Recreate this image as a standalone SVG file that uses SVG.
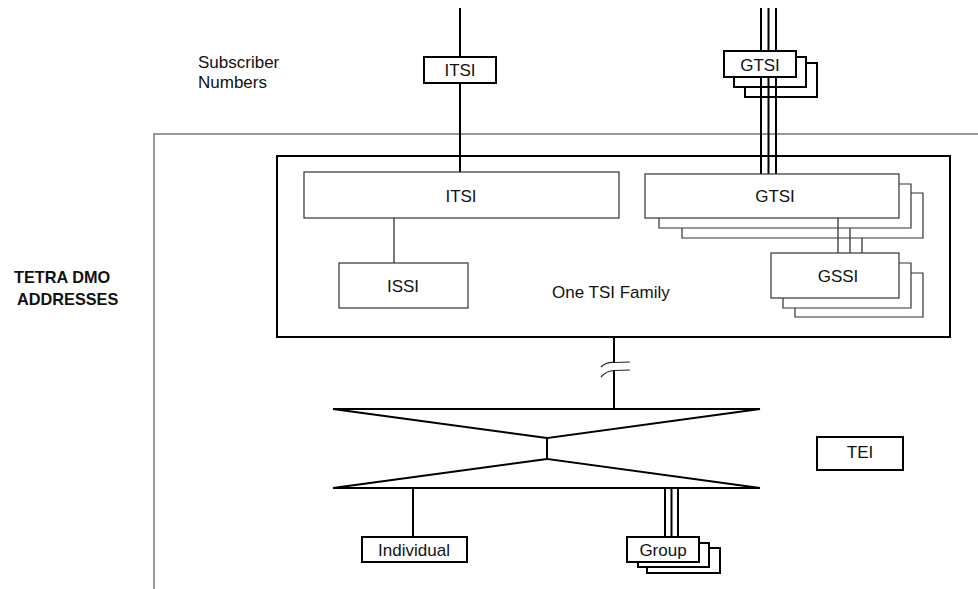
<svg xmlns="http://www.w3.org/2000/svg" width="978" height="589" viewBox="0 0 978 589">
<style>
text{font-family:"Liberation Sans",Arial,sans-serif;font-size:17px;fill:#111}
.c{text-anchor:middle}
.b{font-weight:bold;font-size:16.3px}
.thick{fill:#fff;stroke:#000;stroke-width:2}
.thin{fill:#fff;stroke:#333;stroke-width:1.2}
.stk{fill:none;stroke:#000;stroke-width:2}
.stkt{fill:none;stroke:#333;stroke-width:1.2}
.ln{fill:none;stroke:#000;stroke-width:2}
.lnt{fill:none;stroke:#222;stroke-width:1.2}
</style>
<rect width="978" height="589" fill="#fff"/>
<g id="outer-box"><rect x="154" y="134" width="900" height="500" fill="none" stroke="#555" stroke-width="1.2"/></g>
<g id="labels">
<text x="198" y="68">Subscriber</text>
<text x="198" y="88">Numbers</text>
<text class="b" x="14" y="283">TETRA DMO</text>
<text class="b" x="17" y="305">ADDRESSES</text>
</g>
<g id="tsi-family"><rect x="277" y="156" width="673" height="181" fill="none" stroke="#000" stroke-width="2"/>
<text x="552" y="298">One TSI Family</text></g>
<g id="connectors">
<line class="ln" x1="460" y1="8" x2="460" y2="172"/>
<line class="ln" x1="761" y1="8" x2="761" y2="174"/>
<line class="ln" x1="768.5" y1="8" x2="768.5" y2="174"/>
<line class="ln" x1="776" y1="8" x2="776" y2="174"/>
<line class="lnt" x1="394" y1="218" x2="394" y2="263"/>
<line class="lnt" x1="838" y1="218" x2="838" y2="253"/>
<line class="lnt" x1="850" y1="228" x2="850" y2="253"/>
<line class="lnt" x1="862" y1="238" x2="862" y2="253"/>
<line class="ln" x1="614" y1="337" x2="614" y2="363"/>
<line class="ln" x1="614" y1="370" x2="614" y2="409"/>
<path class="lnt" d="M601,367 Q606,362 614,362.5 L630,362"/>
<path class="lnt" d="M601,377 Q606,371 614,370.5 L630,370"/>
<line class="ln" x1="413" y1="488" x2="413" y2="537"/>
<line class="ln" x1="665" y1="488" x2="665" y2="537"/>
<line class="ln" x1="671.5" y1="488" x2="671.5" y2="537"/>
<line class="ln" x1="678" y1="488" x2="678" y2="537"/>
</g>
<g id="itsi-number"><rect class="thick" x="424" y="57" width="72" height="26"/><text class="c" x="460" y="76">ITSI</text></g>
<g id="gtsi-number">
<polyline class="stk" points="745,87 745,97 817,97 817,63 806,63"/>
<polyline class="stk" points="734,77 734,87 806,87 806,57 796,57"/>
<rect class="thick" x="724" y="51" width="72" height="26"/><text class="c" x="760" y="71">GTSI</text></g>
<g id="itsi"><rect class="thin" x="304" y="172" width="315" height="46"/><text class="c" x="461" y="202">ITSI</text></g>
<g id="gtsi">
<polyline class="stkt" points="682,228 682,238 923,238 923,193 911,193"/>
<polyline class="stkt" points="659,218 659,228 911,228 911,184 899,184"/>
<rect class="thin" x="645" y="174" width="254" height="44"/><text class="c" x="775" y="202">GTSI</text></g>
<g id="issi"><rect class="thin" x="339" y="263" width="129" height="45"/><text class="c" x="403" y="292">ISSI</text></g>
<g id="gssi">
<polyline class="stkt" points="795,308 795,317 923,317 923,273 911,273"/>
<polyline class="stkt" points="783,298 783,308 911,308 911,263 899,263"/>
<rect class="thin" x="771" y="253" width="128" height="45"/><text class="c" x="838" y="282">GSSI</text></g>
<g id="mapping"><path class="ln" stroke-linejoin="miter" d="M333,409 L760,409 L547,438 L547,459 L760,488 L333,488 L547,459 M547,438 L333,409"/></g>
<g id="tei"><rect class="thick" x="817" y="437" width="86" height="33"/><text class="c" x="860" y="458">TEI</text></g>
<g id="individual"><rect class="thick" x="362" y="537" width="105" height="25"/><text class="c" x="414" y="556">Individual</text></g>
<g id="group">
<polyline class="stk" points="647,567 647,573 720,573 720,548 709,548"/>
<polyline class="stk" points="638,562 638,567 709,567 709,543 699,543"/>
<rect class="thick" x="627" y="537" width="72" height="25"/><text class="c" x="663" y="556">Group</text></g>
</svg>
